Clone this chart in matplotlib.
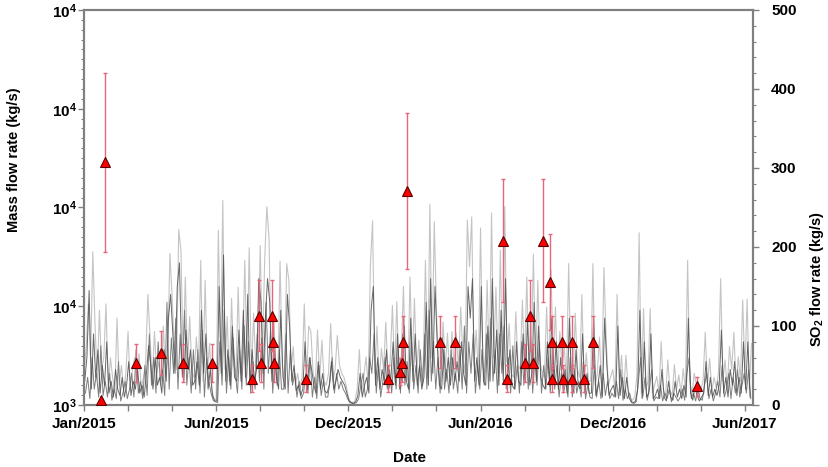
import numpy as np
import pandas as pd
import matplotlib
matplotlib.use("Agg")
import matplotlib.pyplot as plt
from matplotlib.ticker import MultipleLocator

plt.rcParams['font.family'] = ['Liberation Sans', 'DejaVu Sans']
plt.rcParams['font.weight'] = 'bold'
plt.rcParams['mathtext.fontset'] = 'custom'
plt.rcParams['mathtext.rm'] = 'Liberation Sans:bold'
plt.rcParams['mathtext.bf'] = 'Liberation Sans:bold'
plt.rcParams['mathtext.it'] = 'Liberation Sans:bold'

start = pd.Timestamp("2015-01-01")

# SO2 flow rate (kg/s), read every 3 days from Jan/2015 (upper envelope, light grey)
so2_light = [
    40, 72, 128, 55, 194, 103, 30, 120, 45, 60,
    128, 20, 60, 35, 15, 110, 25, 50, 18, 40,
    93, 22, 45, 60, 30, 65, 20, 35, 55, 140,
    86, 30, 93, 40, 55, 25, 100, 35, 60, 192,
    137, 70, 45, 222, 196, 60, 162, 50, 112, 40,
    35, 86, 45, 183, 30, 158, 40, 78, 20, 8,
    6, 221, 60, 259, 45, 112, 30, 135, 50, 40,
    149, 40, 60, 183, 50, 199, 35, 116, 45, 70,
    202, 60, 182, 251, 211, 40, 116, 55, 30, 182,
    50, 30, 179, 158, 45, 74, 25, 40, 20, 35,
    128, 30, 100, 93, 40, 25, 95, 35, 82, 30,
    25, 40, 103, 30, 45, 88, 50, 40, 35, 25,
    10, 4, 3, 5, 20, 70, 15, 35, 61, 25,
    176, 233, 40, 100, 30, 72, 45, 105, 35, 55,
    126, 40, 131, 35, 60, 150, 45, 30, 162, 50,
    135, 40, 82, 30, 50, 183, 35, 254, 60, 232,
    119, 40, 30, 105, 45, 91, 35, 93, 50, 91,
    45, 124, 60, 40, 234, 175, 238, 50, 95, 40,
    224, 50, 40, 158, 45, 243, 60, 149, 40, 196,
    45, 251, 55, 103, 40, 35, 118, 50, 45, 133,
    50, 162, 40, 60, 191, 45, 158, 55, 40, 35,
    124, 40, 171, 50, 124, 35, 93, 45, 74, 30,
    179, 40, 30, 116, 45, 35, 140, 25, 66, 30,
    30, 179, 25, 40, 86, 20, 174, 86, 25, 35,
    45, 20, 140, 25, 63, 15, 63, 20, 8, 6,
    10, 38, 218, 15, 122, 20, 30, 122, 15, 25,
    36, 15, 80, 20, 10, 57, 18, 12, 51, 20,
    38, 15, 46, 20, 183, 30, 12, 40, 25, 10,
    20, 30, 92, 25, 59, 18, 35, 22, 40, 160,
    30, 57, 20, 74, 45, 92, 25, 61, 30, 133,
    40, 134, 20, 78,
]

# SO2 flow rate (kg/s), read every 3 days from 2 Jan 2015 (dark grey)
so2_dark = [
    30, 60, 145, 20, 90, 35, 70, 15, 50, 25,
    80, 15, 30, 10, 45, 20, 12, 35, 10, 25,
    55, 12, 30, 20, 45, 15, 25, 10, 40, 75,
    50, 20, 60, 25, 35, 15, 70, 30, 110, 140,
    90, 40, 150, 180, 60, 30, 95, 45, 70, 25,
    30, 55, 25, 120, 40, 90, 20, 45, 12, 5,
    5, 150, 40, 190, 30, 70, 25, 100, 35, 30,
    95, 30, 120, 35, 140, 25, 70, 30, 45, 160,
    130, 40, 110, 160, 130, 30, 80, 35, 20, 120,
    35, 20, 140, 100, 30, 50, 18, 25, 12, 20,
    80, 20, 60, 45, 25, 15, 55, 20, 40, 18,
    15, 25, 55, 20, 30, 45, 35, 30, 25, 15,
    5, 3, 2, 4, 12, 40, 10, 25, 35, 15,
    120, 150, 25, 60, 20, 45, 30, 70, 20, 35,
    80, 25, 90, 20, 40, 100, 30, 20, 110, 30,
    90, 25, 50, 20, 35, 130, 25, 160, 40, 150,
    80, 25, 20, 70, 30, 60, 25, 60, 30, 55,
    30, 80, 40, 25, 150, 110, 160, 30, 60, 25,
    150, 30, 25, 100, 30, 160, 40, 95, 25, 120,
    30, 160, 35, 70, 25, 20, 80, 30, 25, 90,
    30, 110, 25, 40, 130, 30, 100, 35, 25, 20,
    80, 25, 110, 30, 80, 20, 60, 25, 45, 15,
    110, 25, 15, 70, 25, 20, 90, 15, 40, 15,
    15, 110, 12, 25, 50, 10, 110, 50, 12, 20,
    25, 10, 100, 12, 35, 8, 35, 10, 4, 3,
    5, 20, 120, 8, 80, 10, 15, 90, 8, 12,
    20, 8, 45, 10, 5, 30, 10, 6, 30, 10,
    20, 8, 25, 10, 110, 15, 6, 22, 12, 5,
    10, 15, 55, 12, 35, 10, 20, 12, 25, 95,
    15, 35, 10, 45, 25, 55, 12, 35, 15, 80,
    20, 80, 10,
]

# SO2 flow rate (kg/s), read every 3 days from 3 Jan 2015 (mid grey, base level)
so2_mid = [
    15, 35, 8, 60, 20, 40, 10, 75, 12, 30,
    10, 40, 6, 20, 8, 55, 5, 15, 30, 8,
    20, 40, 10, 70, 15, 30, 8, 50, 12, 90,
    25, 60, 15, 80, 30, 45, 12, 130, 20, 85,
    40, 110, 20, 90, 35, 120, 25, 60, 15, 70,
    20, 70, 15, 95, 10, 60, 30, 15, 6, 4,
    3, 80, 25, 120, 15, 60, 20, 85, 40, 15,
    70, 20, 100, 25, 80, 15, 55, 20, 90, 30,
    85, 20, 130, 40, 95, 15, 60, 25, 70, 20,
    20, 90, 15, 70, 25, 40, 10, 30, 8, 15,
    40, 15, 60, 10, 35, 8, 50, 12, 30, 10,
    10, 30, 60, 15, 40, 20, 30, 20, 15, 8,
    3, 2, 2, 3, 8, 25, 40, 10, 20, 60,
    40, 90, 15, 50, 10, 30, 60, 20, 45, 15,
    60, 20, 70, 15, 90, 25, 55, 15, 80, 20,
    50, 15, 70, 25, 90, 20, 120, 30, 80, 20,
    60, 15, 85, 20, 45, 15, 70, 20, 40, 15,
    70, 20, 100, 15, 80, 40, 90, 15, 50, 20,
    70, 25, 90, 20, 110, 30, 70, 15, 90, 40,
    100, 20, 60, 15, 75, 20, 50, 15, 80, 25,
    70, 20, 90, 15, 60, 25, 80, 15, 50, 20,
    60, 15, 70, 20, 50, 10, 40, 15, 30, 10,
    60, 10, 45, 15, 30, 10, 55, 8, 25, 10,
    8, 50, 10, 30, 8, 40, 12, 30, 8, 15,
    10, 30, 8, 45, 6, 20, 8, 15, 3, 2,
    4, 30, 60, 10, 35, 6, 20, 45, 5, 10,
    8, 25, 5, 15, 8, 20, 4, 15, 10, 5,
    10, 20, 6, 40, 60, 8, 15, 5, 20, 8,
    6, 25, 40, 8, 20, 5, 15, 30, 10, 50,
    10, 20, 40, 8, 35, 15, 45, 10, 25, 40,
    15, 45, 8,
]

# individual estimates (days after 1 Jan 2015), value and error
tri_day = [23, 29, 71, 105, 135, 174, 229, 238, 241, 256,
           257, 259, 302, 414, 430, 433, 434, 440, 485, 505,
           570, 576, 600, 607, 611, 625, 634, 637, 637, 651,
           652, 664, 664, 681, 693, 835]
tri_val = [6, 307, 53, 66, 53, 53, 33, 113, 53, 113,
           80, 53, 33, 33, 42, 53, 80, 271, 80, 80,
           208, 33, 53, 113, 53, 208, 156, 80, 33, 80,
           33, 80, 33, 33, 80, 24]
tri_err = [0, 113, 24, 28, 24, 24, 17, 45, 24, 45,
           33, 24, 17, 17, 17, 24, 33, 99, 33, 33,
           78, 17, 24, 45, 24, 78, 61, 33, 17, 33,
           17, 33, 17, 17, 33, 12]

left_ticks = [3, 4, 5, 6, 7]
left_labels = [r"$\mathbf{10^{3}}$", r"$\mathbf{10^{4}}$", r"$\mathbf{10^{4}}$",
               r"$\mathbf{10^{4}}$", r"$\mathbf{10^{4}}$"]
right_ticks = [0, 100, 200, 300, 400, 500]

light_dates = start + pd.to_timedelta(np.arange(len(so2_light)) * 3, unit="D")
dark_dates = start + pd.to_timedelta(1 + np.arange(len(so2_dark)) * 3, unit="D")
mid_dates = start + pd.to_timedelta(2 + np.arange(len(so2_mid)) * 3, unit="D")
tri_dates = start + pd.to_timedelta(np.array(tri_day), unit="D")

fig = plt.figure(figsize=(8.29, 4.67), dpi=100)
ax = fig.add_axes([0.1013, 0.1328, 0.807, 0.8458])
ax2 = ax.twinx()

grey = "#808080"

ax2.plot(light_dates, so2_light, color="#c4c4c4", lw=0.8, zorder=1)
ax2.plot(mid_dates, so2_mid, color="#7e7e7e", lw=0.7, zorder=2)
ax2.plot(dark_dates, so2_dark, color="#4e4e4e", lw=0.7, alpha=0.85, zorder=2)
ax2.errorbar(tri_dates, tri_val, yerr=tri_err, fmt="none", ecolor="#e4687a",
             elinewidth=1.0, capsize=1.5, capthick=1.0, zorder=3)
ax2.plot(tri_dates, tri_val, ls="none", marker="^", ms=7.5, mfc="#ff0000",
         mec="#5a0000", mew=0.8, zorder=4)

# x axis: ticks every 60 days, labelled every 180 days
tick_dates = [(start + pd.Timedelta(days=60 * k)).to_pydatetime() for k in range(16)]
tick_text = [d.strftime("%b/%Y") if k % 3 == 0 else "" for k, d in enumerate(tick_dates)]
ax.set_xlim(start.to_pydatetime(), (start + pd.Timedelta(days=911)).to_pydatetime())
ax.set_xticks(tick_dates)
ax.set_xticklabels(tick_text)

ax.set_ylim(3, 7)
ax.set_yticks(left_ticks)
ax.set_yticklabels(left_labels)
ax.yaxis.set_minor_locator(MultipleLocator(0.1))

ax2.set_ylim(0, 500)
ax2.set_yticks(right_ticks)
ax2.yaxis.set_minor_locator(MultipleLocator(20))

for a in (ax, ax2):
    for s in a.spines.values():
        s.set_color(grey)
        s.set_linewidth(1.5)

ax.tick_params(axis="x", which="major", direction="out", length=4, width=1,
               color=grey, labelsize=11, pad=5)
ax.tick_params(axis="y", which="major", direction="out", length=4, width=1,
               color=grey, labelsize=11, pad=1)
ax.tick_params(axis="y", which="minor", direction="out", length=2.5, width=0.8,
               color=grey)
ax2.tick_params(axis="y", which="major", direction="out", length=4, width=1,
                color=grey, labelsize=11, pad=9)
ax2.tick_params(axis="y", which="minor", direction="out", length=2.5, width=0.8,
                color=grey)

ax.set_xlabel("Date", fontsize=11, fontweight="bold")
ax.xaxis.set_label_coords(0.487, -0.116)
ax.set_ylabel("Mass flow rate (kg/s)", fontsize=10.5, fontweight="bold")
ax.yaxis.set_label_coords(-0.094, 0.62)
ax2.set_ylabel(r"SO$_\mathbf{2}$ flow rate (kg/s)", fontsize=10.5, fontweight="bold",
               rotation=90)
ax2.yaxis.set_label_coords(1.082, 0.32)

fig.savefig("out.png", dpi=100)
